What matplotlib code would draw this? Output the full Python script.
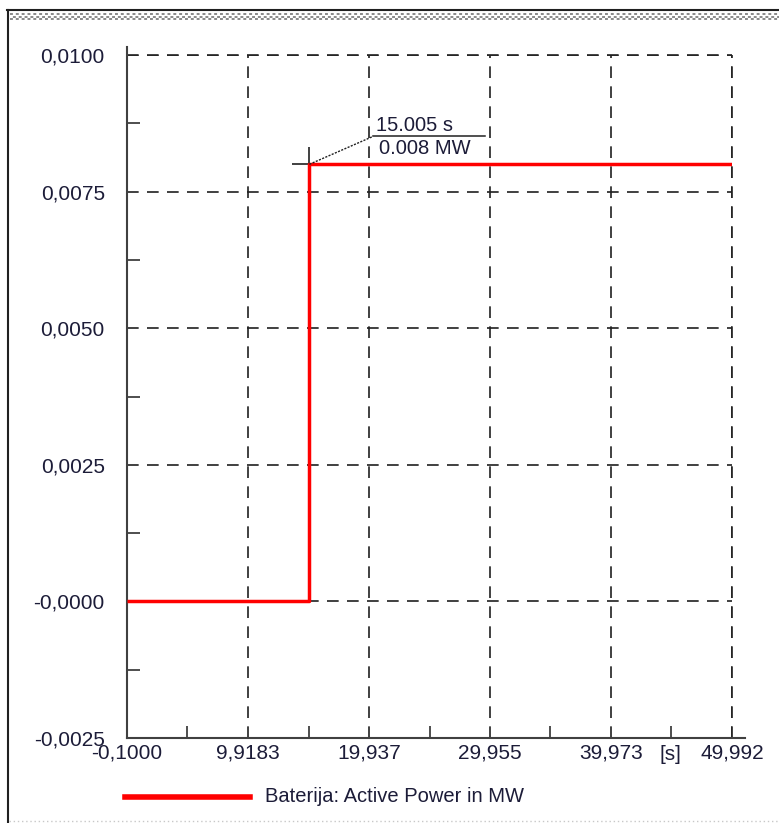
import matplotlib.pyplot as plt
from matplotlib.lines import Line2D

plt.rcParams['font.family'] = ['Liberation Sans', 'DejaVu Sans']

# step signal of the battery
t = [-0.1, 15.005, 15.005, 49.992]
p = [0.0, 0.0, 0.008, 0.008]

xticks = [-0.1, 9.9183, 19.937, 29.955, 39.973, 49.992]
xlabels = ['-0,1000', '9,9183', '19,937', '29,955', '39,973', '49,992']
yticks = [-0.0025, 0.0, 0.0025, 0.0050, 0.0075, 0.0100]
ylabels = ['-0,0025', '-0,0000', '0,0025', '0,0050', '0,0075', '0,0100']

marker_t = 15.005
marker_p = 0.008
legend_label = 'Baterija: Active Power in MW'

W, H = 779, 823
fig = plt.figure(figsize=(W / 100, H / 100), dpi=100)

# window frame
fig.add_artist(Line2D([7 / W, 1], [1 - 10 / H, 1 - 10 / H], color='#202020', lw=1.5))
fig.add_artist(Line2D([8 / W, 8 / W], [0, 1 - 10 / H], color='#202020', lw=1.5))
# dotted title stripe
for i, yy in enumerate([14, 16.5, 19]):
    fig.add_artist(Line2D([10 / W, 1], [1 - yy / H, 1 - yy / H], color='#8a8a8a', lw=1.4,
                          ls=(1.5 * (i % 2), (1.5, 1.5))))
fig.add_artist(Line2D([9 / W, 1], [2 / H, 2 / H], color='#c8c8c8', lw=1, ls=(0, (1, 2))))

ax = fig.add_axes([127 / W, 85 / H, 605 / W, 683 / H])
ax.set_xlim(-0.1, 49.992)
ax.set_ylim(-0.0025, 0.0100)

dash = (0, (7, 5))
ax.grid(True, which='major', color='#202020', ls=dash, lw=1.2)
ax.axvline(49.992, color='#202020', ls=dash, lw=1.2, clip_on=False)
ax.axhline(0.0100, color='#202020', ls=dash, lw=1.2, clip_on=False)

ax.plot(t, p, color='#ff0000', lw=2.5, solid_capstyle='butt', zorder=3)

for s in ax.spines.values():
    s.set_visible(False)
ax.plot([0, 0], [0, 1.012], transform=ax.transAxes, color='#404040', lw=1.5, clip_on=False)
ax.plot([0, 1.021], [0, 0], transform=ax.transAxes, color='#404040', lw=1.5, clip_on=False)

ax.set_xticks(xticks)
ax.set_xticklabels(xlabels)
ax.set_yticks(yticks)
ax.set_yticklabels(ylabels)
ax.set_xticks([(xticks[i] + xticks[i + 1]) / 2 for i in range(5)], minor=True)
ax.set_yticks([(yticks[i] + yticks[i + 1]) / 2 for i in range(5)], minor=True)
ax.tick_params(which='major', direction='in', length=0, labelsize=15, labelcolor='#1c1c38')
ax.tick_params(which='minor', direction='in', length=9, width=1.3, color='#404040')
ax.tick_params(axis='x', which='major', pad=4)
ax.tick_params(axis='y', which='major', pad=16)

ax.text(0.8975, -0.0105, '[s]', transform=ax.transAxes, fontsize=15, color='#1c1c38',
        ha='center', va='top')

# marker annotation
ax.plot([marker_t], [marker_p], marker='+', ms=24, mew=1.2, color='#202020', zorder=2)
ax.plot([marker_t, 20.27], [marker_p, 0.00851], color='#202020', lw=1, ls=(0, (1.5, 1)), zorder=4)
ax.plot([20.27, 29.54], [0.00851, 0.00851], color='#202020', lw=1.1, zorder=4)
ax.text(20.5, 0.00854, '15.005 s', fontsize=14.5, color='#1c1c38', ha='left', va='bottom')
ax.text(20.8, 0.00846, '0.008 MW', fontsize=14.5, color='#1c1c38', ha='left', va='top')

# legend
fig.add_artist(Line2D([125 / W, 250 / W], [1 - 797 / H, 1 - 797 / H], color='#ff0000', lw=4))
fig.text(265 / W, 1 - 797 / H, legend_label, fontsize=14.5, color='#1c1c38', va='center', ha='left')

fig.savefig('out.png', dpi=100)
